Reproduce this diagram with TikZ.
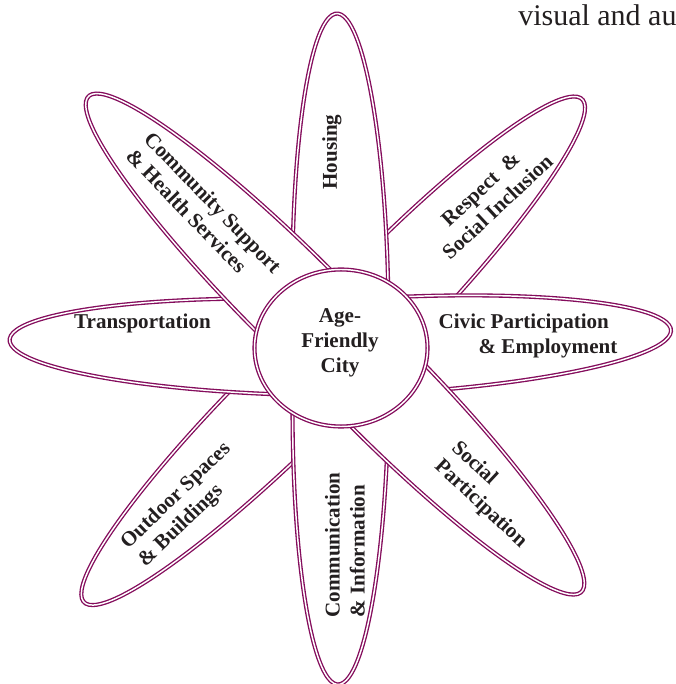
\documentclass[tikz,border=0pt]{standalone}
\usepackage{fontspec}
\setmainfont{Liberation Serif}
\definecolor{petalline}{RGB}{132,12,92}
\definecolor{ink}{RGB}{35,31,32}
\tikzset{petal/.style={draw=petalline, double=white, line width=1pt, double distance=1.1pt, fill=white},
  lbl/.style={text=ink, font=\bfseries\fontsize{15.8}{18.75}\selectfont, inner sep=0pt}}

\begin{document}
\begin{tikzpicture}[x=0.75pt,y=0.75pt]
\useasboundingbox (-341,-336) rectangle (334,348);
% petals, lowest one first
\foreach \ang/\dist in {45.9/56.5, 224.7/71.5, 3.1/40.5, 269.5/46.5, 90.7/44.5, 178.6/41.5, 314.6/52.5, 135.1/66.5}
  \draw[petal, rotate=\ang] (\dist,0) ++(100:290 and 48) arc[start angle=100, end angle=-100, x radius=290, y radius=48] -- cycle;
% centre
\draw[petal] (0,0) ellipse [x radius=86.5, y radius=78.5];
\node[lbl, align=center] (hub) at (-1,5) {Age-\\Friendly\\City};
% petal labels
\node[lbl, rotate=90] (housing) at (-9,196) {Housing};
\node[lbl, rotate=-46, align=left] (community) at (-137,137) {Community Support\\\& Health Services};
\node[lbl, rotate=43, align=center] (respect) at (148,150) {Respect\ \ \&\\Social Inclusion};
\node[lbl] (transport) at (-198.5,25) {Transportation};
\node[lbl, align=left] (civic) at (187,12.5) {Civic Participation\\\hspace*{30pt}\& Employment};
\node[lbl, rotate=-43, align=left] (social) at (148,-147) {Social\\Participation};
\node[lbl, rotate=44, align=left] (outdoor) at (-156,-157) {Outdoor Spaces\\\& Buildings};
\node[lbl, rotate=90, align=left] (communication) at (4,-197) {Communication\\\& Information};
% text of the page running past the edge
\node[text=ink, font=\fontsize{22.5}{27}\selectfont, inner sep=0pt, anchor=base west] (spill) at (177,322) {visual and au};
\end{tikzpicture}
\end{document}
